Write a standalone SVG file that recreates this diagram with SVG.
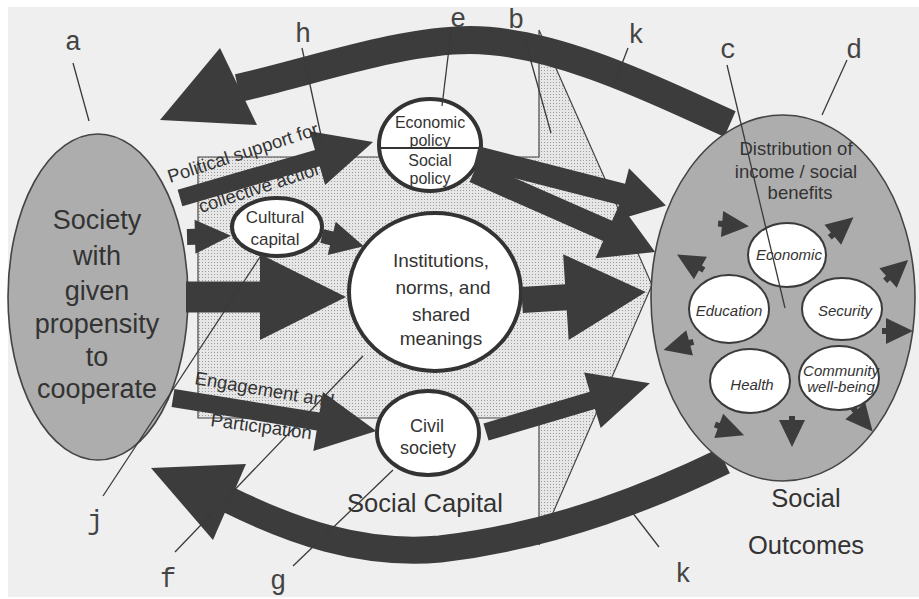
<svg xmlns="http://www.w3.org/2000/svg" width="919" height="599" viewBox="0 0 919 599">
  <style>
    .arrow { fill: #3c3c3c; }
    .band { fill: none; stroke: #3c3c3c; stroke-linecap: butt; }
    .lead { stroke: #3a3a3a; stroke-width: 1.3; fill: none; }
    .ring { fill: #ffffff; stroke: #333333; stroke-width: 4; }
    .oval { fill: #ffffff; stroke: #3a3a3a; stroke-width: 2; }
    .big { fill: #adadad; stroke: #444444; stroke-width: 1.6; }
    .t { font-family: "Liberation Sans", Arial, sans-serif; fill: #333333; text-anchor: middle; }
    .ti { font-family: "Liberation Sans", Arial, sans-serif; fill: #333333; text-anchor: middle; font-style: italic; font-size: 15px; }
    .tl { font-family: "Liberation Sans", Arial, sans-serif; fill: #333333; font-size: 18.5px; }
    .lbl { font-family: "Liberation Mono", "Courier New", monospace; fill: #444444; font-size: 27px; text-anchor: middle; }
  </style>
  <defs>
    <pattern id="stipple" width="3" height="3" patternUnits="userSpaceOnUse">
      <rect width="3" height="3" fill="#e6e6e6"/>
      <rect x="1" y="1" width="1" height="1" fill="#9c9c9c"/>
    </pattern>
    <polygon id="pip" points="15,0 -12,-13 -12,-3 -16,-3 -16,3 -12,3 -12,13"/>
  </defs>

  <!-- paper -->
  <rect width="919" height="599" fill="#ffffff"/>
  <rect x="8" y="7" width="911" height="590" fill="#efefef"/>

  <!-- Social Capital block arrow (stippled) -->
  <g id="social-capital">
    <polygon points="198,157 539,157 539,30 652,285 539,545 539,418 198,418" fill="url(#stipple)" stroke="#444444" stroke-width="1.2"/>
  </g>

  <g id="connectors">
    <!-- feedback bands -->
    <path class="band" stroke-width="28" d="M730,124 C675,100 560,40 470,40 C400,40 310,72 238,88"/>
    <polygon class="arrow" points="160,120 220,48 257,125"/>
    <path class="band" stroke-width="27" d="M724,461 C660,492 560,535 440,549 C360,556 290,530 229,500"/>
    <polygon class="arrow" points="151,468 246,464 213,540"/>
  </g>

  <!-- society -->
  <g id="society">
    <ellipse class="big" cx="98" cy="297" rx="90" ry="163"/>
    <text class="t" font-size="27" x="97" y="229">Society</text>
    <text class="t" font-size="27" x="97" y="265">with</text>
    <text class="t" font-size="27" x="97" y="300">given</text>
    <text class="t" font-size="27" x="97" y="333">propensity</text>
    <text class="t" font-size="27" x="97" y="366">to</text>
    <text class="t" font-size="27" x="97" y="398">cooperate</text>
  </g>

  <!-- social outcomes -->
  <g id="outcomes">
    <ellipse class="big" cx="783" cy="298" rx="132" ry="183" fill="#b2b2b2"/>
    <text class="t" font-size="18.5" x="796" y="155">Distribution of</text>
    <text class="t" font-size="18.5" x="796" y="178">income / social</text>
    <text class="t" font-size="18.5" x="800" y="199">benefits</text>
  </g>
  <g id="out-economic">
    <ellipse class="oval" cx="787" cy="255" rx="39" ry="32"/>
    <text class="ti" x="789" y="260">Economic</text>
  </g>
  <g id="out-education">
    <ellipse class="oval" cx="729" cy="309" rx="40" ry="34"/>
    <text class="ti" x="729" y="316">Education</text>
  </g>
  <g id="out-security">
    <ellipse class="oval" cx="842" cy="309" rx="40" ry="31"/>
    <text class="ti" x="845" y="316">Security</text>
  </g>
  <g id="out-health">
    <ellipse class="oval" cx="750" cy="381" rx="40" ry="32"/>
    <text class="ti" x="752" y="390">Health</text>
  </g>
  <g id="out-community">
    <ellipse class="oval" cx="839" cy="378" rx="40" ry="32"/>
    <text class="ti" x="841" y="376">Community</text>
    <text class="ti" x="841" y="392">well-being</text>
  </g>
  <g id="outcome-pips" fill="#3c3c3c">
    <use href="#pip" transform="translate(734,225) rotate(5)"/>
    <use href="#pip" transform="translate(842,227) rotate(-40)"/>
    <use href="#pip" transform="translate(690,262) rotate(210)"/>
    <use href="#pip" transform="translate(897,270) rotate(-42)"/>
    <use href="#pip" transform="translate(678,346) rotate(165)"/>
    <use href="#pip" transform="translate(898,331) rotate(0)"/>
    <use href="#pip" transform="translate(730,430) rotate(20)"/>
    <use href="#pip" transform="translate(792,432) rotate(90)"/>
    <use href="#pip" transform="translate(863,420) rotate(50)"/>
  </g>

  <!-- social capital components -->
  <g id="policy">
    <ellipse class="ring" cx="430" cy="145" rx="51" ry="46"/>
    <line x1="380" y1="148" x2="480" y2="148" stroke="#333333" stroke-width="2"/>
    <text class="t" font-size="16" x="430" y="128">Economic</text>
    <text class="t" font-size="16" x="430" y="146">policy</text>
    <text class="t" font-size="16" x="430" y="166">Social</text>
    <text class="t" font-size="16" x="430" y="184">policy</text>
  </g>
  <g id="cultural-capital">
    <ellipse class="ring" cx="277" cy="227" rx="45" ry="29"/>
    <text class="t" font-size="17" x="275" y="223">Cultural</text>
    <text class="t" font-size="17" x="275" y="245">capital</text>
  </g>
  <g id="institutions">
    <ellipse class="ring" cx="435" cy="292" rx="86" ry="79"/>
    <text class="t" font-size="19" x="441" y="267">Institutions,</text>
    <text class="t" font-size="19" x="443" y="294">norms, and</text>
    <text class="t" font-size="19" x="441" y="321">shared</text>
    <text class="t" font-size="19" x="441" y="345">meanings</text>
  </g>
  <g id="civil-society">
    <ellipse class="ring" cx="428" cy="433" rx="51" ry="42"/>
    <text class="t" font-size="18" x="427" y="432">Civil</text>
    <text class="t" font-size="18" x="428" y="454">society</text>
  </g>

  <!-- labels partly covered by the arrows -->
  <text class="tl" transform="translate(201,213) rotate(-18)">collective action</text>
  <text class="tl" transform="translate(194,384) rotate(9.6)">Engagement and</text>
  <text class="tl" transform="translate(210,426) rotate(7.5)">Participation</text>

  <g id="flow-arrows" class="arrow">
    <polygon transform="translate(180,198) rotate(-16.2)" points="0,-8.5 143,-8.5 143,-28 201,0 143,28 143,8.5 0,8.5"/>
    <polygon transform="translate(187,237) rotate(-1.5)" points="0,-8 8,-8 8,-17 44,0 8,17 8,8 0,8"/>
    <polygon transform="translate(322,236) rotate(13.7)" points="0,-7 10,-7 10,-17 43,0 10,17 10,7 0,7"/>
    <polygon transform="translate(186,297)" points="0,-15.5 74,-15.5 74,-43 160,0 74,43 74,15.5 0,15.5"/>
    <polygon transform="translate(522,300) rotate(-3.7)" points="0,-13 44,-13 44,-43 124,0 44,43 44,13 0,13"/>
    <polygon transform="translate(476,157) rotate(14.3)" points="0,-11 151,-11 151,-27 196,0 151,27 151,11 0,11"/>
    <polygon transform="translate(474,172) rotate(23.8)" points="0,-11 146,-11 146,-30 198,0 146,30 146,11 0,11"/>
    <polygon transform="translate(486,432) rotate(-16.6)" points="0,-9 111,-9 111,-29 171,0 111,29 111,9 0,9"/>
    <polygon transform="translate(173,398) rotate(9.2)" points="0,-9 147,-9 147,-30 206,0 147,30 147,9 0,9"/>
  </g>

  <text class="tl" font-size="19.5" transform="translate(170,183) rotate(-18)">Political support for</text>

  <!-- captions -->
  <text class="t" font-size="25.5" x="425" y="512">Social Capital</text>
  <text class="t" font-size="25.5" x="806" y="507">Social</text>
  <text class="t" font-size="25.5" x="806" y="554">Outcomes</text>

  <!-- letter keys and their leaders -->
  <g id="keys">
    <line class="lead" x1="73" y1="63" x2="89" y2="121"/>
    <line class="lead" x1="302" y1="48" x2="322" y2="140"/>
    <line class="lead" x1="451" y1="32" x2="442" y2="106"/>
    <line class="lead" x1="525" y1="40" x2="551" y2="133"/>
    <line class="lead" x1="628" y1="48" x2="615" y2="82"/>
    <line class="lead" x1="727" y1="65" x2="785" y2="308"/>
    <line class="lead" x1="847" y1="60" x2="822" y2="115"/>
    <line class="lead" x1="103" y1="496" x2="260" y2="257"/>
    <line class="lead" x1="175" y1="552" x2="363" y2="356"/>
    <line class="lead" x1="293" y1="566" x2="393" y2="470"/>
    <line class="lead" x1="659" y1="547" x2="632" y2="512"/>
    <text class="lbl" x="73" y="50">a</text>
    <text class="lbl" x="303" y="42">h</text>
    <text class="lbl" x="458" y="27">e</text>
    <text class="lbl" x="516" y="28">b</text>
    <text class="lbl" x="636" y="43">k</text>
    <text class="lbl" x="728" y="58">c</text>
    <text class="lbl" x="854" y="58">d</text>
    <text class="lbl" x="95" y="529">j</text>
    <text class="lbl" x="168" y="587">f</text>
    <text class="lbl" x="278" y="589">g</text>
    <text class="lbl" x="683" y="582">k</text>
  </g>
</svg>
